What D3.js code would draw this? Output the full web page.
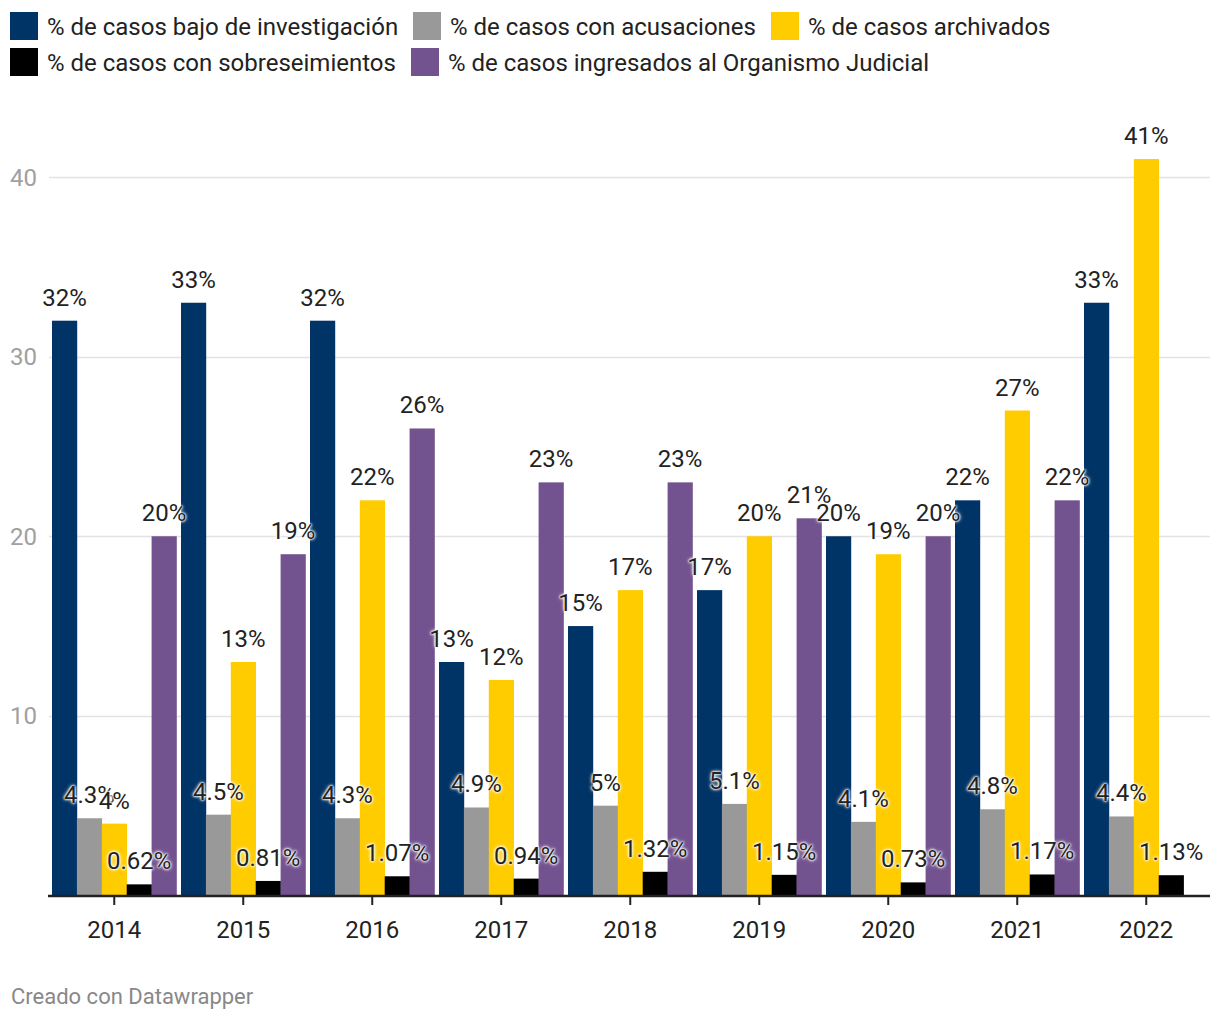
<!DOCTYPE html>
<html>
<head>
<meta charset="utf-8">
<script src="https://cdn.jsdelivr.net/npm/d3@7"></script>
<style>
  html, body { margin: 0; padding: 0; background: #fff; }
  svg { display: block; font-family: Roboto, "Noto Sans", sans-serif; }
  .val { text-shadow: 0 0 2px #fff, 0 0 2px #fff, 0 0 3px #fff, 0 0 4px #fff; }
</style>
</head>
<body>
<svg id="chart" width="1220" height="1020"></svg>
<script>
const years = ["2014","2015","2016","2017","2018","2019","2020","2021","2022"];
const seriesNames = [
  "% de casos bajo de investigación",
  "% de casos con acusaciones",
  "% de casos archivados",
  "% de casos con sobreseimientos",
  "% de casos ingresados al Organismo Judicial"
];
const seriesColors = ["#003366", "#999999", "#ffcc00", "#000000", "#735290"];
const investigacion = [32, 33, 32, 13, 15, 17, 20, 22, 33];
const acusaciones   = [4.3, 4.5, 4.3, 4.9, 5, 5.1, 4.1, 4.8, 4.4];
const archivados    = [4, 13, 22, 12, 17, 20, 19, 27, 41];
const sobreseimientos = [0.62, 0.81, 1.07, 0.94, 1.32, 1.15, 0.73, 1.17, 1.13];
const ingresadosOJ  = [20, 19, 26, 23, 23, 21, 20, 22, null];
const yTicks = [10, 20, 30, 40];

const seriesValues = [investigacion, acusaciones, archivados, sobreseimientos, ingresadosOJ];

const svg = d3.select("#chart");

// Legend
const legendRows = [
  [{i:0, x:10}, {i:1, x:413}, {i:2, x:771}],
  [{i:3, x:10}, {i:4, x:411}]
];
legendRows.forEach((row, r) => {
  const gy = 12 + r * 36;
  row.forEach(it => {
    const g = svg.append("g").attr("transform", `translate(${it.x},${gy})`);
    g.append("rect").attr("width", 28).attr("height", 28).attr("fill", seriesColors[it.i]);
    g.append("text").attr("x", 37).attr("y", 22.5).attr("font-size", 24)
      .attr("fill", "#222").text(seriesNames[it.i]);
  });
});

// Scales
const x0 = d3.scaleBand().domain(years).range([49.75, 1210.75])
  .paddingInner(0.035).paddingOuter(0.0175);
const x1 = d3.scaleBand().domain(d3.range(seriesNames.length)).range([0, x0.bandwidth()]);
const y = d3.scaleLinear().domain([0, 40]).range([895.5, 177]);

// Grid
const grid = svg.append("g");
grid.selectAll("line").data(yTicks).join("line")
  .attr("x1", 49).attr("x2", 1210)
  .attr("y1", d => Math.round(y(d)) + 0.5).attr("y2", d => Math.round(y(d)) + 0.5)
  .attr("stroke", "#e3e3e3").attr("stroke-width", 1.5);
grid.selectAll("text").data(yTicks).join("text")
  .attr("x", 10).attr("y", d => y(d) + 8.5)
  .attr("font-size", 24).attr("fill", "#a0a0a0").text(d => d);

// Bars
const groups = svg.append("g").selectAll("g").data(years).join("g")
  .attr("transform", d => `translate(${x0(d)},0)`);

groups.each(function(yr, yi) {
  const g = d3.select(this);
  const data = seriesValues.map((arr, si) => ({si, v: arr[yi]})).filter(d => d.v != null);
  g.selectAll("rect").data(data).join("rect")
    .attr("x", d => x1(d.si))
    .attr("width", x1.bandwidth() + 0.3)
    .attr("y", d => y(d.v))
    .attr("height", d => y(0) - y(d.v))
    .attr("fill", d => seriesColors[d.si]);
});

// Labels (drawn after all bars)
const labelLayer = svg.append("g");
years.forEach((yr, yi) => {
  seriesValues.forEach((arr, si) => {
    const v = arr[yi];
    if (v == null) return;
    labelLayer.append("text").attr("class", "val")
      .attr("x", x0(yr) + x1(si) + x1.bandwidth() / 2)
      .attr("y", y(v) - 15)
      .attr("text-anchor", "middle")
      .attr("font-size", 24).attr("fill", "#222")
      .text(v + "%");
  });
});

// X axis
const xAxis = d3.axisBottom(x0).tickSize(9).tickSizeOuter(0).tickPadding(0);
const ax = svg.append("g").attr("transform", "translate(0,896)").call(xAxis);
ax.select(".domain").remove();
ax.append("line").attr("x1", 48).attr("x2", 1210).attr("y1", 0).attr("y2", 0)
  .attr("stroke", "#222").attr("stroke-width", 2.3);
ax.selectAll(".tick line").attr("stroke", "#222").attr("stroke-width", 2);
ax.selectAll(".tick text").attr("font-size", 24).attr("fill", "#222")
  .attr("y", 42).attr("dy", null)
  .attr("font-family", "Roboto, 'Noto Sans', sans-serif");

// Footer
svg.append("text").attr("x", 11).attr("y", 1004).attr("font-size", 22)
  .attr("fill", "#888").text("Creado con Datawrapper");
</script>
</body>
</html>
